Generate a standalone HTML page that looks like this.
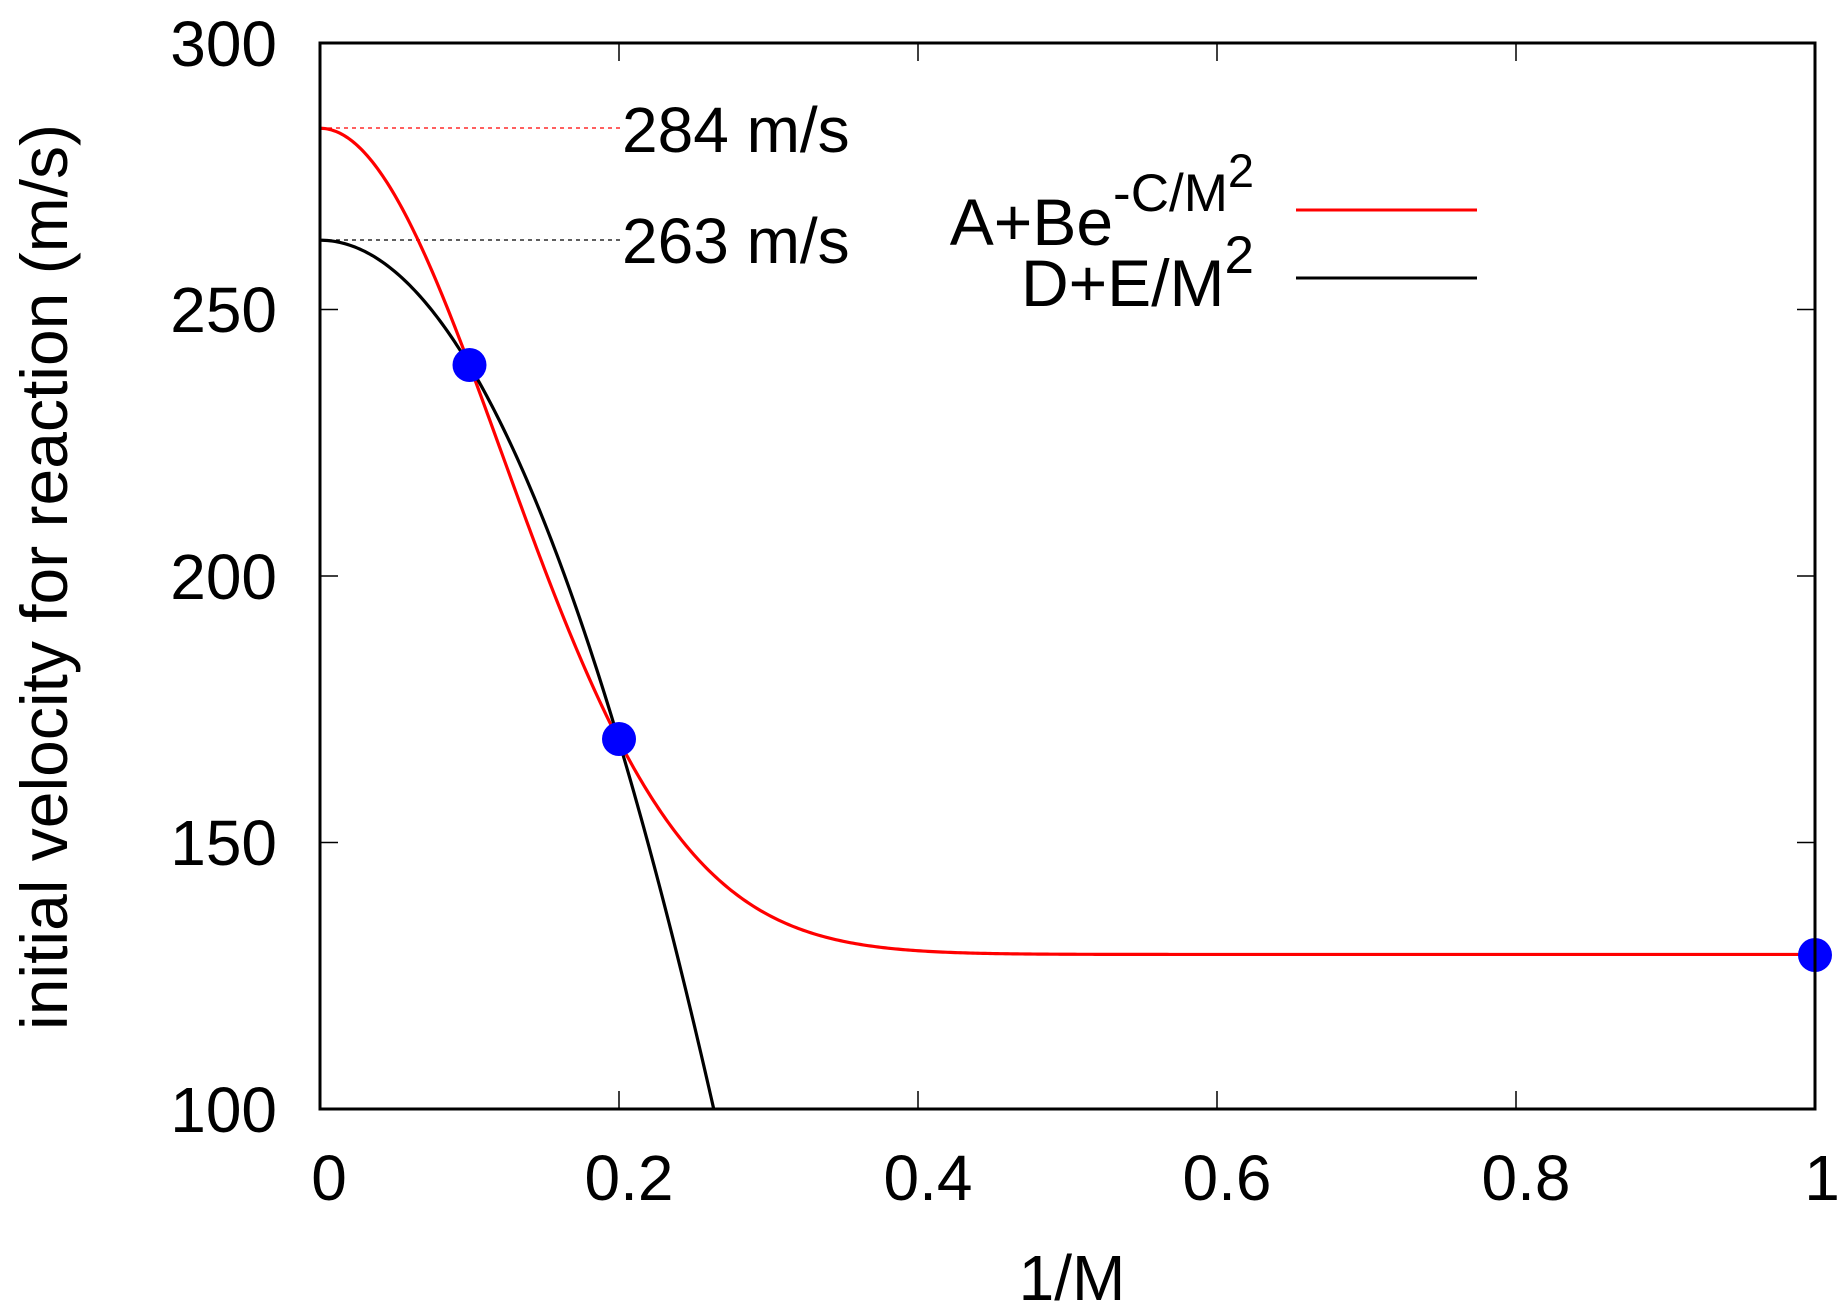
<!DOCTYPE html>
<html><head><meta charset="utf-8"><style>
html,body{margin:0;padding:0;background:#fff;}
svg{display:block;font-family:"Liberation Sans",Arial,sans-serif;}
</style></head><body>
<svg id="s" width="1847" height="1314" viewBox="0 0 1847 1314" xmlns="http://www.w3.org/2000/svg">
<rect width="1847" height="1314" fill="#fff"/>
<g stroke="#000" stroke-width="1.5">
<line x1="320" y1="309.5" x2="338" y2="309.5"/><line x1="320" y1="576" x2="338" y2="576"/><line x1="320" y1="842.5" x2="338" y2="842.5"/>
<line x1="1815" y1="309.5" x2="1797" y2="309.5"/><line x1="1815" y1="576" x2="1797" y2="576"/><line x1="1815" y1="842.5" x2="1797" y2="842.5"/>
<line x1="619" y1="1109" x2="619" y2="1091"/><line x1="918" y1="1109" x2="918" y2="1091"/><line x1="1217" y1="1109" x2="1217" y2="1091"/><line x1="1516" y1="1109" x2="1516" y2="1091"/>
<line x1="619" y1="43" x2="619" y2="61"/><line x1="918" y1="43" x2="918" y2="61"/><line x1="1217" y1="43" x2="1217" y2="61"/><line x1="1516" y1="43" x2="1516" y2="61"/>
</g>
<g font-size="64" text-anchor="end" fill="#000">
<text x="277" y="66">300</text><text x="277" y="332">250</text><text x="277" y="599">200</text><text x="277" y="865">150</text><text x="277" y="1132">100</text>
</g>
<g font-size="64" text-anchor="middle" fill="#000">
<text x="329" y="1200">0</text><text x="629" y="1200">0.2</text><text x="928" y="1200">0.4</text><text x="1227" y="1200">0.6</text><text x="1526" y="1200">0.8</text><text x="1822" y="1200">1</text>
<text x="1072" y="1300">1/M</text>
<text transform="translate(67,577) rotate(-90)" text-anchor="middle" font-size="66">initial velocity for reaction (m/s)</text>
</g>
<line x1="320" y1="128" x2="620" y2="128" stroke="#f00" stroke-width="1.2" stroke-dasharray="4,4"/>
<line x1="320" y1="240" x2="620" y2="240" stroke="#000" stroke-width="1.2" stroke-dasharray="4,4"/>
<g font-size="64" fill="#000">
<text x="622" y="152">284 m/s</text><text x="622" y="263">263 m/s</text>
</g>
<g fill="#000" text-anchor="end">
<text x="1254" y="245" font-size="66">A+Be<tspan font-size="53" dy="-34">-C/M</tspan><tspan font-size="47" dy="-24">2</tspan></text>
<text x="1254" y="306" font-size="66">D+E/M<tspan font-size="53" dy="-33">2</tspan></text>
</g>
<line x1="1296" y1="210" x2="1477" y2="210" stroke="#f00" stroke-width="3"/>
<line x1="1296" y1="278" x2="1477" y2="278" stroke="#000" stroke-width="3"/>
<defs><clipPath id="c"><rect x="320" y="43" width="1495" height="1066"/></clipPath></defs>
<g clip-path="url(#c)" fill="none" stroke-width="3.2">
<path id="red" stroke="#f00"/>
<path id="blk" stroke="#000"/>
</g>
<g fill="#0000ff">
<ellipse cx="469.5" cy="365" rx="17" ry="17"/>
<ellipse cx="619" cy="739" rx="17" ry="17"/>
<ellipse cx="1815" cy="955" rx="17" ry="17"/>
</g>
<rect x="320" y="43" width="1495" height="1066" fill="none" stroke="#000" stroke-width="3"/>
</svg>
<script>
(function(){
function X(x){return 320+x*1495;}
function Y(y){return 43+(300-y)*1066/200;}
var r="",b="";
for(var i=0;i<=600;i++){var x=i/600;
var yr=129+155*Math.exp(-33.8*x*x);
var yb=263-2350*x*x;
r+=(i?"L":"M")+X(x).toFixed(2)+" "+Y(yr).toFixed(2);
if(x<=0.3) b+=(i?"L":"M")+X(x).toFixed(2)+" "+Y(yb).toFixed(2);}
document.getElementById("red").setAttribute("d",r);
document.getElementById("blk").setAttribute("d",b);
})();
</script>
</body></html>
